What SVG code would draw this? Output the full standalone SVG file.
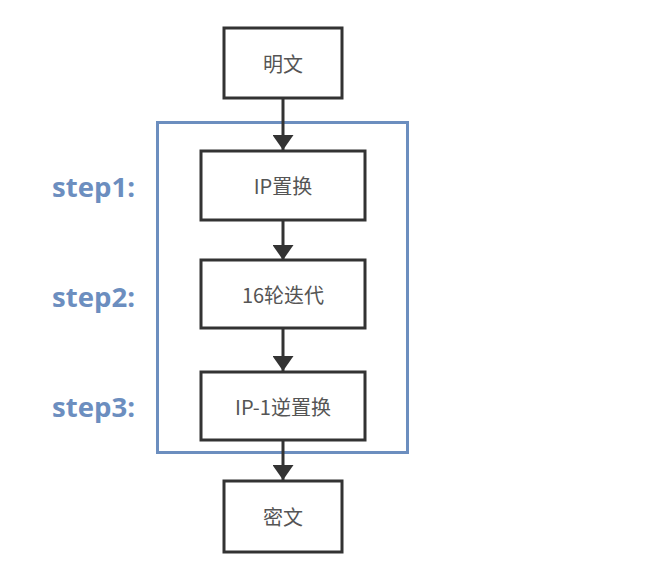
<svg xmlns="http://www.w3.org/2000/svg" width="672" height="562" viewBox="0 0 672 562">
<style>
.node rect{fill:#fff;stroke:#333;stroke-width:3}
.node text{font-family:"Noto Sans CJK SC","Noto Sans",sans-serif;font-size:20px;fill:#555;text-anchor:middle;dominant-baseline:central}
.step{font-family:"Open Sans","Noto Sans",sans-serif;font-weight:bold;font-size:26px;fill:#6c8ebf}
.edge{stroke:#333;stroke-width:3;fill:none}
</style>
<defs>
<marker id="ah" markerWidth="5" markerHeight="7" refX="5" refY="3.5" orient="auto" markerUnits="strokeWidth">
<path d="M0,0 L5,3.5 L0,7 Z" fill="#333"/>
</marker>
</defs>
<rect id="group" x="157.5" y="122.5" width="250" height="330" fill="none" stroke="#6c8ebf" stroke-width="3"/>
<g id="labels">
<text class="step" x="52" y="197" textLength="83" lengthAdjust="spacingAndGlyphs">step1:</text>
<text class="step" x="52" y="307" textLength="83" lengthAdjust="spacingAndGlyphs">step2:</text>
<text class="step" x="52" y="417" textLength="83" lengthAdjust="spacingAndGlyphs">step3:</text>
</g>
<g id="connectors">
<line class="edge" x1="283" y1="98" x2="283" y2="150" marker-end="url(#ah)"/>
<line class="edge" x1="283" y1="220" x2="283" y2="260" marker-end="url(#ah)"/>
<line class="edge" x1="283" y1="328" x2="283" y2="371" marker-end="url(#ah)"/>
<line class="edge" x1="283" y1="440" x2="283" y2="480" marker-end="url(#ah)"/>
</g>
<g id="n1" class="node"><rect x="224" y="28" width="118" height="70"/><text x="283" y="63">明文</text></g>
<g id="n2" class="node"><rect x="201" y="151" width="164" height="69"/><text x="283" y="185.5">IP置换</text></g>
<g id="n3" class="node"><rect x="201" y="260" width="164" height="68"/><text x="283" y="294">16轮迭代</text></g>
<g id="n4" class="node"><rect x="201" y="372" width="164" height="68"/><text x="283" y="406">IP-1逆置换</text></g>
<g id="n5" class="node"><rect x="224" y="481" width="118" height="71"/><text x="283" y="516.5">密文</text></g>
</svg>
